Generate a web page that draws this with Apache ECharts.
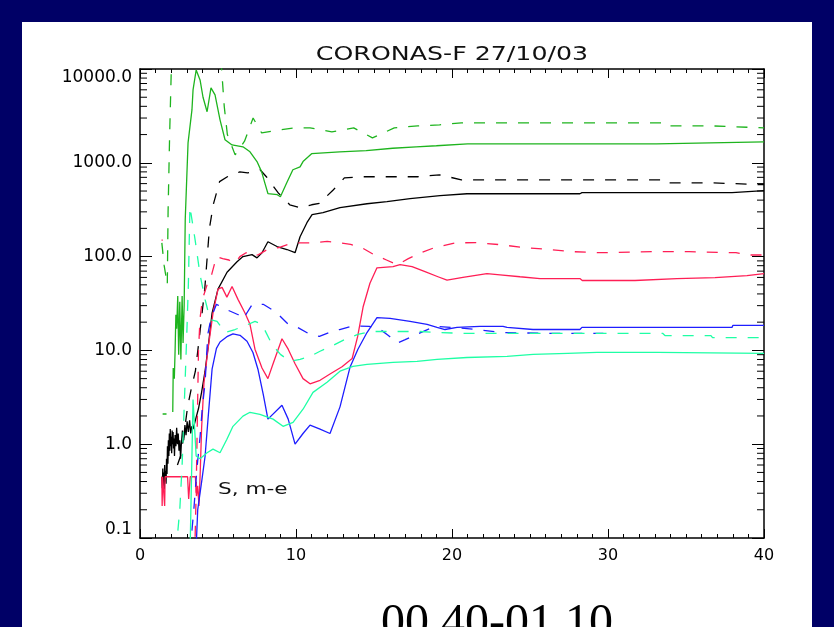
<!DOCTYPE html>
<html>
<head>
<meta charset="utf-8">
<script src="https://cdn.jsdelivr.net/npm/echarts@6/dist/echarts.min.js"></script>
<style>
  html, body { margin: 0; padding: 0; background: #000066; overflow: hidden; }
  #panel { position: absolute; left: 22px; top: 22px; width: 790px; height: 620px; background: #ffffff; }
  #chart { position: absolute; left: 0; top: 0; width: 834px; height: 627px; }
</style>
</head>
<body>
<div id="panel"></div>
<div id="chart"></div>
<script>
// Axis ticks and labels
const xTickValues = [0, 10, 20, 30, 40];
const xTickLabels = ['0', '10', '20', '30', '40'];
const yTickValues = [0.1, 1, 10, 100, 1000, 10000];
const yTickLabels = ['0.1', '1.0', '10.0', '100.0', '1000.0', '10000.0'];
const yMinorTicks = [0.2, 0.3, 0.4, 0.5, 0.6, 0.7, 0.8, 0.9,
  2, 3, 4, 5, 6, 7, 8, 9,
  20, 30, 40, 50, 60, 70, 80, 90,
  200, 300, 400, 500, 600, 700, 800, 900,
  2000, 3000, 4000, 5000, 6000, 7000, 8000, 9000];

const titleText = 'CORONAS-F 27/10/03';
const noteText = 'S, m-e';
const notePos = [5.0, 0.33];
const footText = '00 40-01 10';

// Flux curves: [x, value]; '-' breaks a line
const blackSolid = [[1.40, 0.45], [1.43, 0.34], [1.46, 0.55], [1.49, 0.36], [1.52, 0.50], [1.55, 0.33], [1.58, 0.60], [1.61, 0.40], [1.64, 0.52], [1.67, 0.38], [1.70, 0.70], [1.73, 0.48], [1.76, 0.95], [1.79, 0.62], [1.82, 1.10], [1.85, 0.75], [1.88, 1.30], [1.91, 0.85], [1.94, 1.45], [1.97, 0.95], [2.00, 1.20], [2.03, 0.80], [2.06, 1.40], [2.09, 1.00], [2.12, 1.35], [2.15, 0.90], [2.18, 1.15], [2.21, 0.75], [2.25, 1.25], [2.30, 0.95], [2.35, 1.50], [2.40, 1.00], [2.45, 1.30], [2.50, 0.85], [2.55, 1.10], [2.60, 0.70], [2.65, 1.00], [2.72, 1.40], [2.80, 1.10], [2.88, 1.60], [2.95, 1.25], [3.02, 1.75], [3.10, 1.35], [3.18, 1.80], [3.25, 1.30], [3.32, 1.55], [3.40, 1.45], [3.55, 1.8], [3.75, 2.4], [3.95, 3.6], [4.17, 6.0], [4.40, 12], [4.62, 25], [5.00, 45], [5.58, 68], [6.22, 88], [6.60, 100], [7.18, 105], [7.50, 97], [7.82, 110], [8.20, 144], [8.78, 128], [9.42, 119], [9.94, 110], [10.26, 163], [10.70, 230], [11.03, 280], [11.73, 294], [12.82, 332], [14.55, 366], [15.83, 385], [17.31, 414], [19.23, 446], [20.96, 468], [28.20, 468], [28.33, 480], [37.95, 480], [38.01, 504], [40, 504]];

const blackDashed = [[2.40, 0.6], [2.60, 0.75], [2.80, 1.2], [3.05, 2.5], [3.30, 4.0], [3.55, 6.0], [3.85, 16], [4.15, 45], [4.45, 200], [4.70, 360], [5.10, 630], [5.60, 710], [6.40, 800], [6.90, 780], [7.70, 843], [8.10, 710], [8.85, 480], [9.60, 357], [10.26, 332], [11.00, 357], [11.50, 370], [12.40, 516], [13.10, 690], [14.10, 710], [17.80, 710], [19.20, 745], [20.60, 659], [33.50, 659], [33.65, 612], [36.60, 612], [36.70, 584], [40, 584]];

const greenSolid = [[2.10, 2.2], [2.13, 6.5], [2.20, 5.0], [2.25, 10], [2.30, 24], [2.35, 17], [2.42, 38], [2.48, 9], [2.55, 33], [2.62, 8], [2.70, 38], [2.76, 12], [2.83, 30], [2.90, 250], [3.00, 710], [3.08, 1630], [3.33, 3660], [3.40, 5980], [3.60, 9760], [3.68, 10000], [3.85, 7640], [4.04, 5000], [4.30, 3500], [4.55, 6300], [4.81, 5300], [5.13, 2870], [5.45, 1760], [5.90, 1550], [6.60, 1480], [7.05, 1310], [7.50, 1030], [7.80, 800], [8.00, 610], [8.20, 470], [8.80, 457], [9.00, 435], [9.40, 610], [9.80, 843], [10.26, 906], [10.45, 1030], [11.00, 1250], [12.80, 1310], [14.50, 1350], [16.20, 1430], [17.70, 1480], [19.00, 1520], [21.00, 1590], [33.10, 1590], [33.15, 1670], [40, 1670]];

const greenDashed = [[1.45, 2.1], [1.70, 2.1], [1.70, '-'], [1.40, 140], [1.55, 80], [1.75, 50], [1.80, 300], [1.90, 2000], [2.00, 9000], [2.05, 15000], [5.15, 15000], [5.25, 9000], [5.40, 4000], [5.60, 2000], [6.10, 1215], [6.70, 1700], [7.25, 3000], [7.80, 2080], [9.00, 2245], [9.90, 2357], [10.90, 2357], [12.30, 2140], [13.70, 2357], [14.90, 1845], [16.30, 2357], [17.80, 2475], [19.20, 2540], [20.60, 2670], [33.50, 2670], [33.65, 2475], [36.60, 2475], [36.70, 2357], [40, 2357]];

const redSolid = [[1.40, 0.45], [1.42, 0.22], [1.45, 0.45], [1.55, 0.45], [1.58, 0.22], [1.61, 0.45], [2.60, 0.45], [3.05, 0.45], [3.12, 0.26], [3.22, 0.45], [3.55, 0.45], [3.62, 0.28], [3.70, 0.36], [3.78, 0.22], [3.86, 0.5], [3.95, 1.5], [4.10, 4.5], [4.36, 10.3], [4.68, 25], [5.00, 45], [5.26, 47], [5.57, 37], [5.90, 48], [6.28, 35], [6.73, 25], [7.05, 19], [7.37, 10.3], [7.82, 6.5], [8.20, 5.0], [8.53, 7.2], [9.10, 13.3], [9.50, 10.3], [9.94, 7.2], [10.45, 5.0], [10.90, 4.4], [11.54, 4.8], [12.18, 5.6], [12.95, 6.7], [13.60, 8.2], [13.95, 14], [14.30, 29], [14.74, 52], [15.19, 76], [16.22, 78], [16.67, 82], [17.44, 78], [18.27, 69], [19.10, 61], [19.68, 56], [20.70, 60], [22.24, 66], [23.08, 64], [24.36, 61], [25.64, 58.3], [28.20, 58.3], [28.35, 55.6], [31.73, 55.6], [31.80, 58.3], [34.42, 58.3], [34.50, 59.8], [36.86, 59.8], [36.92, 62.8], [38.91, 62.8], [38.97, 65.9], [40, 65.9]];

const redDashed = [[1.38, 150], [1.46, 150], [1.46, '-'], [3.50, 0.06], [3.60, 0.3], [3.68, 2], [3.75, 10], [3.85, 22], [4.00, 35], [4.30, 50], [4.60, 65], [4.90, 100], [5.30, 95], [5.70, 92], [6.10, 85], [6.40, 100], [6.80, 110], [7.20, 100], [7.60, 105], [8.20, 120], [8.90, 125], [9.50, 135], [10.00, 140], [11.00, 140], [12.00, 145], [12.80, 140], [13.50, 135], [14.20, 125], [15.00, 105], [15.80, 92], [16.50, 82], [17.20, 95], [18.00, 110], [18.90, 125], [20.20, 140], [21.50, 141], [23.10, 134], [24.60, 125], [26.20, 119], [27.70, 113], [29.40, 110], [33.00, 113], [35.20, 113], [35.30, 110], [38.20, 110], [39.00, 104], [40, 104]];

const blueSolid = [[3.60, 0.08], [3.70, 0.2], [3.97, 0.42], [4.17, 0.74], [4.36, 1.85], [4.62, 6.3], [4.90, 10.5], [5.13, 12.3], [5.57, 14.0], [5.96, 15.0], [6.41, 14.5], [6.86, 12.5], [7.24, 9.5], [7.56, 6.3], [7.90, 3.4], [8.20, 1.85], [9.10, 2.6], [9.50, 1.85], [9.94, 1.0], [10.45, 1.3], [10.90, 1.6], [11.54, 1.45], [12.18, 1.3], [12.82, 2.5], [13.46, 6.6], [13.97, 10.3], [14.55, 15.5], [15.19, 22.4], [16.03, 21.9], [17.31, 20.4], [18.40, 18.9], [19.04, 17.6], [19.55, 16.7], [20.32, 17.6], [21.79, 18.0], [23.27, 18.0], [23.53, 17.6], [25.19, 16.7], [28.20, 16.7], [28.33, 17.6], [37.95, 17.6], [38.01, 18.5], [40, 18.5]];

const blueDashed = [[3.20, 0.07], [3.45, 0.2], [3.65, 0.55], [3.85, 1.2], [4.00, 2.5], [4.17, 4.5], [4.35, 15], [4.55, 22], [4.90, 31], [5.60, 27], [6.30, 24], [6.60, 21.5], [7.20, 31], [7.90, 31], [8.50, 27], [9.00, 23], [9.50, 19], [10.10, 17.6], [10.90, 14.8], [11.50, 14.1], [12.30, 15.9], [12.80, 16.7], [13.50, 18], [14.10, 18.2], [14.70, 18], [15.30, 17.2], [15.90, 14.5], [16.50, 12], [17.00, 13], [17.80, 15], [18.90, 18], [20.30, 17.5], [21.80, 16.5], [23.20, 15.5], [26.00, 15.2], [29.70, 15.2]];

const cyanSolid = [[3.20, 0.06], [3.40, 3.0], [3.60, 0.75], [3.85, 0.7], [4.30, 0.81], [4.68, 0.885], [5.13, 0.81], [5.57, 1.13], [5.96, 1.55], [6.60, 1.99], [7.05, 2.19], [7.69, 2.08], [8.53, 1.85], [9.17, 1.55], [9.81, 1.71], [10.45, 2.36], [11.09, 3.57], [11.99, 4.57], [12.82, 6.0], [13.65, 6.76], [14.55, 7.10], [16.22, 7.46], [17.76, 7.64], [19.04, 8.02], [20.96, 8.4], [23.53, 8.63], [25.20, 9.07], [27.40, 9.3], [29.30, 9.53], [33.20, 9.53], [33.30, 9.3], [40, 9.3]];

const cyanDashed = [[2.30, 0.07], [2.55, 0.2], [2.70, 0.6], [2.85, 3], [3.00, 15], [3.10, 50], [3.20, 340], [3.53, 152], [3.85, 64], [4.17, 35], [4.49, 21.4], [4.94, 20.4], [5.45, 15.5], [6.09, 16.7], [6.80, 18.5], [7.37, 20.4], [7.82, 18.9], [8.46, 11.6], [9.00, 9.07], [9.62, 7.64], [10.26, 8.02], [10.90, 8.63], [11.54, 9.8], [12.37, 11.3], [13.14, 13.1], [13.97, 14.8], [14.74, 15.9], [17.95, 15.9], [19.20, 15.5], [20.60, 15.2], [33.50, 15.2], [33.65, 14.4], [36.60, 14.4], [36.70, 13.7], [40, 13.7]];

const COLORS = {
  black: '#000000',
  green: '#1eb41e',
  red: '#ff1e55',
  blue: '#1e1eff',
  cyan: '#1effa5'
};
const DASH = [11, 11];
const labelFont = 'DejaVu Sans';

function curve(name, data, color, dashed) {
  return {
    name: name,
    type: 'line',
    data: data,
    xAxisIndex: 0,
    yAxisIndex: 0,
    showSymbol: false,
    symbol: 'none',
    connectNulls: false,
    clip: true,
    animation: false,
    lineStyle: { color: color, width: 1.3, type: dashed ? DASH : 'solid' },
    emphasis: { disabled: true },
    z: 3
  };
}

function xAxisDef(pos, showLabels) {
  return {
    type: 'value', min: xTickValues[0], max: xTickValues[xTickValues.length - 1],
    interval: 10, position: pos,
    axisLine: { show: true, onZero: false, lineStyle: { color: '#000', width: 1.5 } },
    axisTick: { show: true, inside: true, length: 9, lineStyle: { color: '#000', width: 1 } },
    minorTick: { show: true, splitNumber: 10, length: 4, lineStyle: { color: '#000', width: 1 } },
    splitLine: { show: false }, minorSplitLine: { show: false },
    axisLabel: {
      show: showLabels, margin: 10, color: '#000', fontFamily: labelFont, fontSize: 16,
      formatter: function (v) { const i = xTickValues.indexOf(v); return i >= 0 ? xTickLabels[i] : ''; }
    }
  };
}

function yAxisDef(pos, showLabels) {
  return {
    type: 'log', logBase: 10, min: yTickValues[0], max: yTickValues[yTickValues.length - 1],
    position: pos,
    axisLine: { show: true, onZero: false, lineStyle: { color: '#000', width: 1.5 } },
    axisTick: { show: true, inside: true, length: 12, lineStyle: { color: '#000', width: 1 } },
    splitLine: { show: false },
    axisLabel: {
      show: showLabels, margin: 8, color: '#000', fontFamily: labelFont, fontSize: 17,
      verticalAlignMaxLabel: 'top', verticalAlignMinLabel: 'bottom',
      formatter: function (v) {
        let best = 0;
        for (let i = 0; i < yTickValues.length; i++) {
          if (Math.abs(Math.log10(v) - Math.log10(yTickValues[i])) < Math.abs(Math.log10(v) - Math.log10(yTickValues[best]))) best = i;
        }
        return yTickLabels[best];
      }
    }
  };
}

const chart = echarts.init(document.getElementById('chart'), null, { renderer: 'canvas' });

const option = {
  backgroundColor: 'transparent',
  animation: false,
  grid: { left: 140, right: 70, top: 69, bottom: 89, containLabel: false, outerBoundsMode: 'none' },
  xAxis: [xAxisDef('bottom', true), xAxisDef('top', false)],
  yAxis: [yAxisDef('left', true), yAxisDef('right', false)],
  graphic: [
    {
      type: 'text', x: 452, y: 55, scaleX: 1.33, silent: true,
      style: { text: titleText, fill: '#111', fontFamily: labelFont, fontSize: 19, textAlign: 'center', textVerticalAlign: 'middle' }
    },
    {
      type: 'text', x: 497, y: 624, silent: true,
      style: { text: footText, fill: '#000', fontFamily: 'Liberation Serif', fontSize: 48, textAlign: 'center', textVerticalAlign: 'middle' }
    }
  ],
  series: [
    curve('black', blackSolid, COLORS.black, false),
    curve('black dashed', blackDashed, COLORS.black, true),
    curve('green', greenSolid, COLORS.green, false),
    curve('green dashed', greenDashed, COLORS.green, true),
    curve('red', redSolid, COLORS.red, false),
    curve('red dashed', redDashed, COLORS.red, true),
    curve('blue', blueSolid, COLORS.blue, false),
    curve('blue dashed', blueDashed, COLORS.blue, true),
    curve('cyan', cyanSolid, COLORS.cyan, false),
    curve('cyan dashed', cyanDashed, COLORS.cyan, true),
    {
      // minor log ticks on both vertical axes
      name: 'minor ticks', type: 'custom', xAxisIndex: 0, yAxisIndex: 0,
      silent: true, clip: false, animation: false, z: 4,
      data: yMinorTicks.map(function (v) { return [xTickValues[0], v]; }),
      renderItem: function (params, api) {
        const v = api.value(1);
        const l = api.coord([xTickValues[0], v]);
        const r = api.coord([xTickValues[xTickValues.length - 1], v]);
        return {
          type: 'group', children: [
            { type: 'line', shape: { x1: l[0], y1: l[1], x2: l[0] + 7, y2: l[1] }, style: { stroke: '#000', lineWidth: 1 } },
            { type: 'line', shape: { x1: r[0], y1: r[1], x2: r[0] - 7, y2: r[1] }, style: { stroke: '#000', lineWidth: 1 } }
          ]
        };
      }
    },
    {
      // in-plot annotation
      name: 'note', type: 'custom', xAxisIndex: 0, yAxisIndex: 0,
      silent: true, clip: false, animation: false, z: 5,
      data: [notePos],
      renderItem: function (params, api) {
        const p = api.coord([api.value(0), api.value(1)]);
        return {
          type: 'text', x: p[0], y: p[1], scaleX: 1.35,
          style: { text: noteText, fill: '#111', fontFamily: labelFont, fontSize: 16, textAlign: 'left', textVerticalAlign: 'middle' }
        };
      }
    }
  ]
};

chart.setOption(option);
</script>
</body>
</html>
